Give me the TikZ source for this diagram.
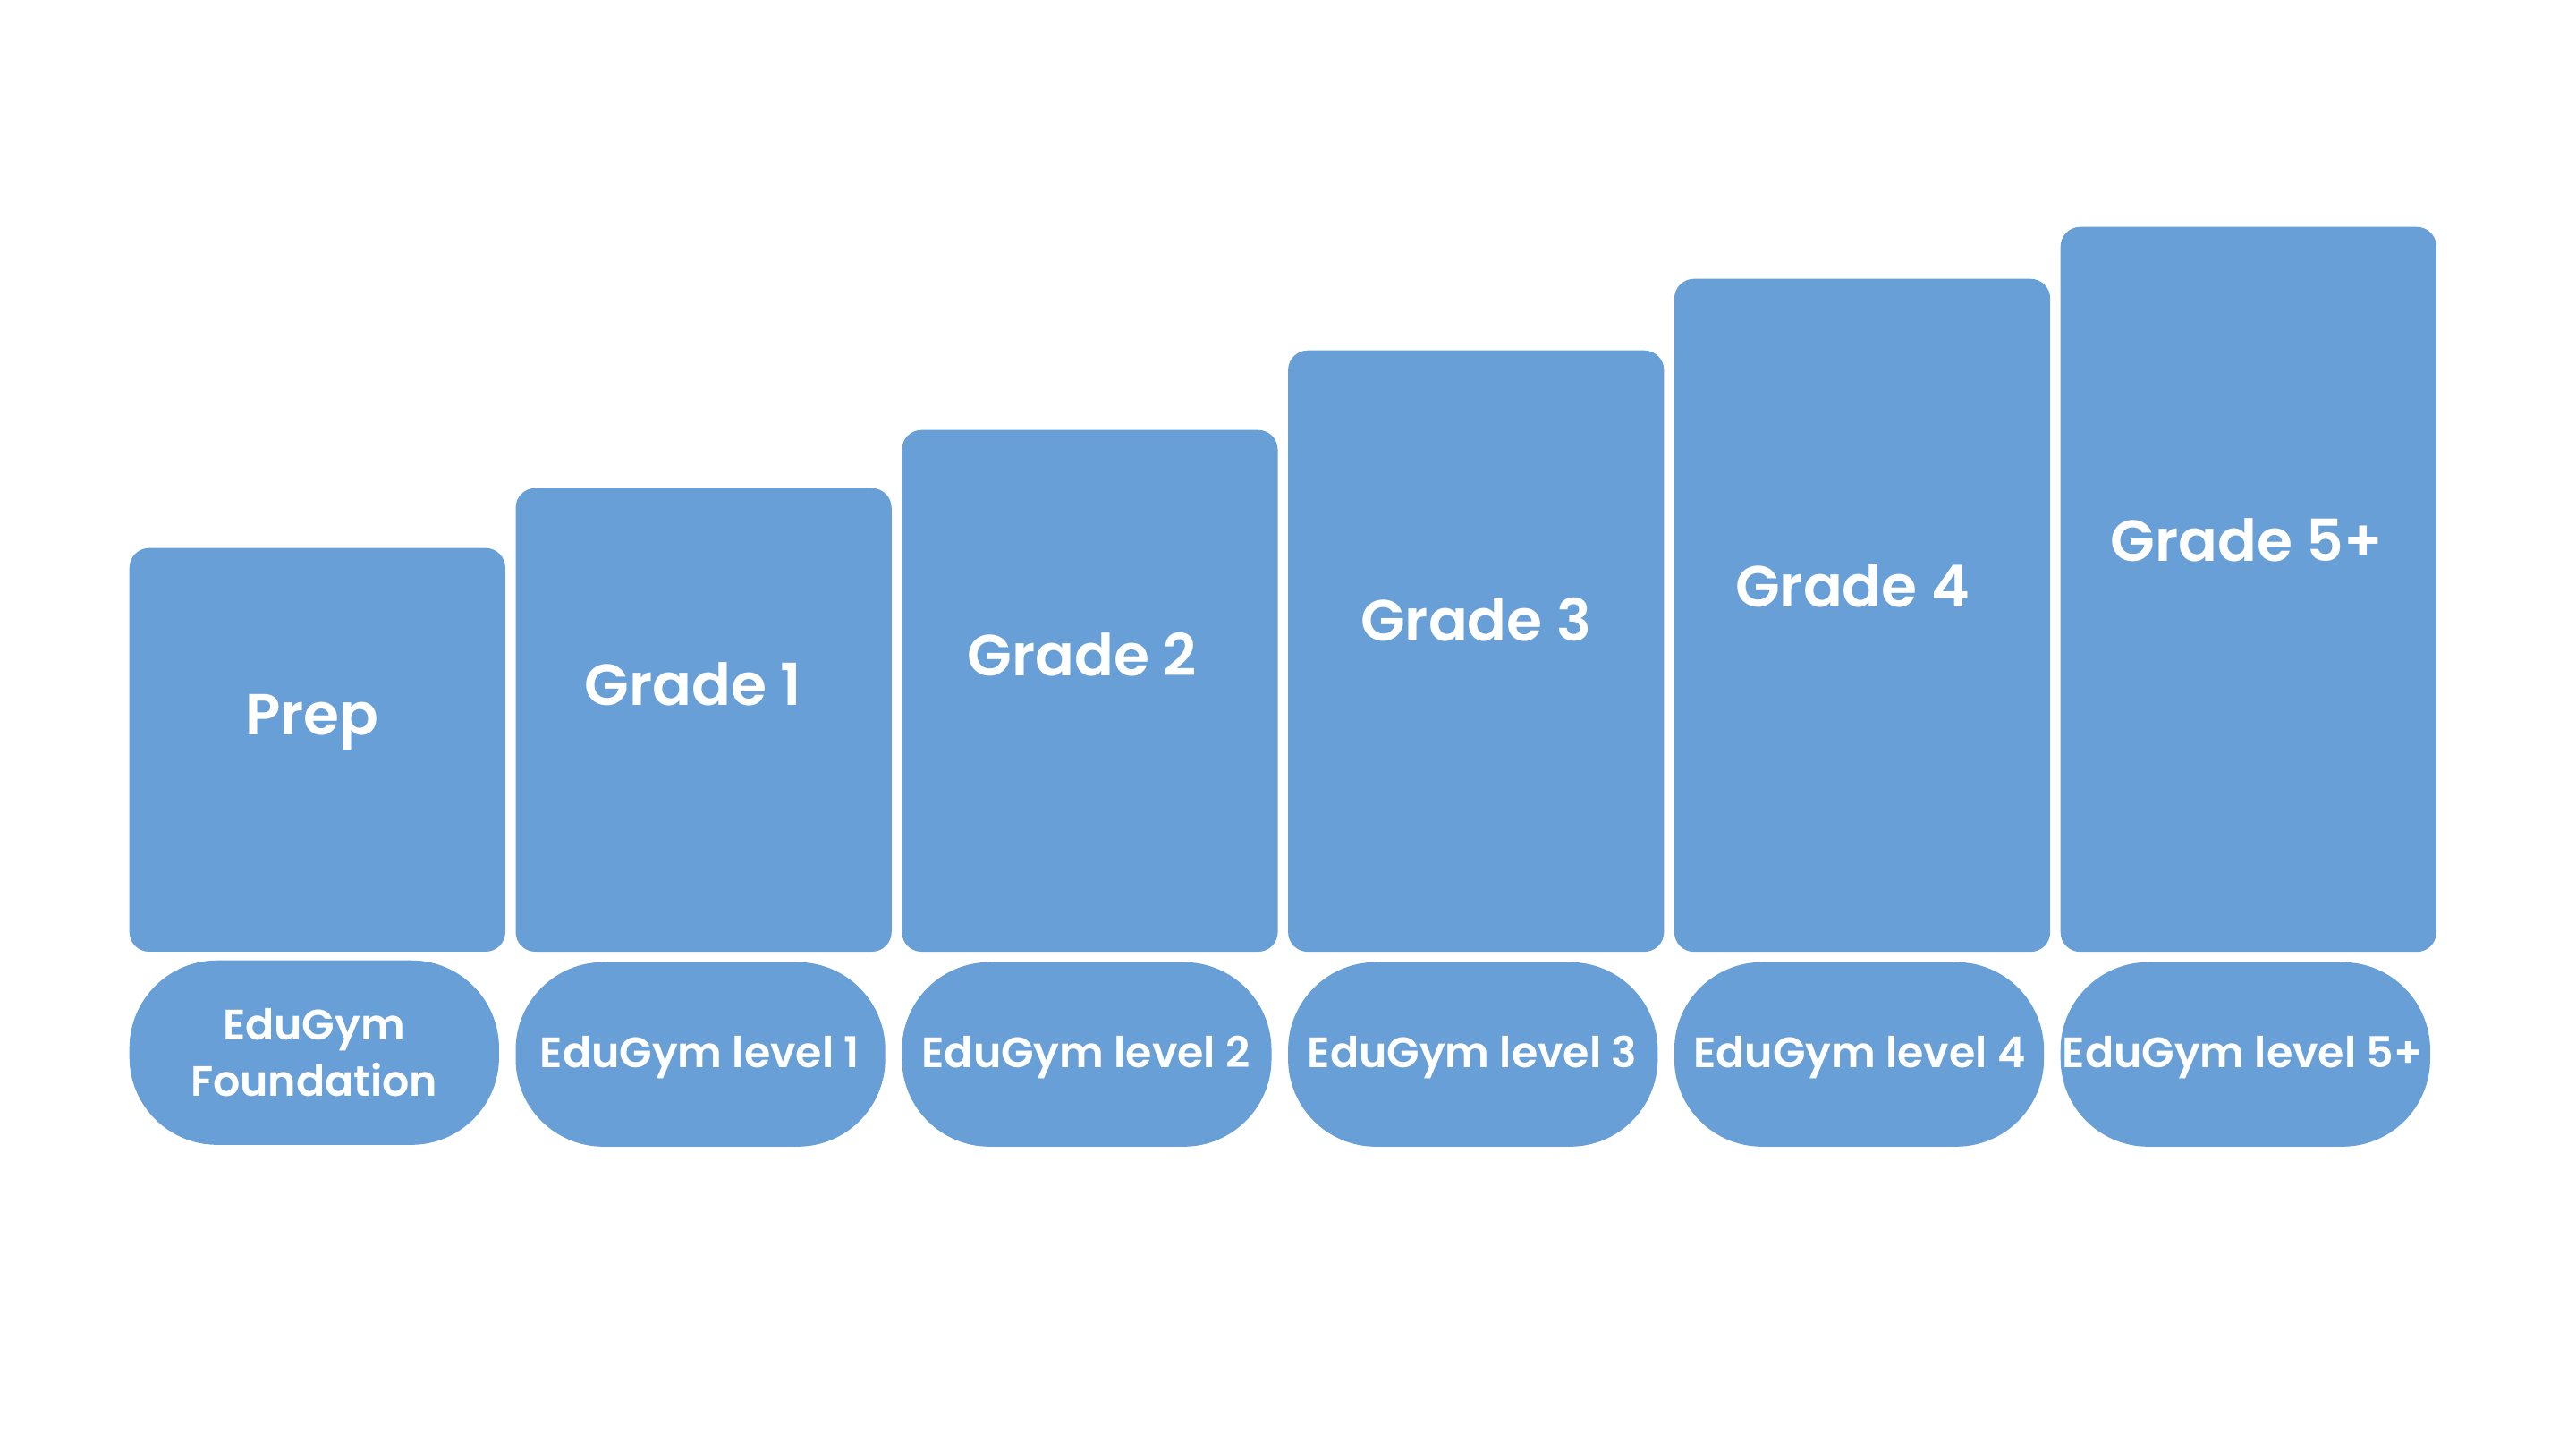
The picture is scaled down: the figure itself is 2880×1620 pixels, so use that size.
\documentclass[tikz,border=0pt]{standalone}
\usepackage{fontspec}
\setmainfont{Poppins}[BoldFont={Poppins SemiBold}]
\definecolor{eblue}{RGB}{104,159,214}
\begin{document}
\begin{tikzpicture}[x=0.01cm,y=-0.01cm,
  bar/.style={fill=eblue, rounded corners=0.22cm, minimum width=4.2cm, inner sep=0pt, anchor=north west},
  pill/.style={fill=eblue, rounded corners=0.98cm, minimum width=4.13cm, minimum height=2.06cm, inner sep=0pt, anchor=north west},
  gtext/.style={text=white, font=\fontsize{18.4}{23}\selectfont\bfseries, anchor=base, inner sep=0pt},
  ptext/.style={text=white, font=\fontsize{13.5}{17.9}\selectfont\bfseries, anchor=base, inner sep=0pt, align=center}]
\useasboundingbox[fill=white] (0,0) rectangle (2880,1620);
% grade bars
\node[bar, minimum height=4.51cm] (b0) at (144,612) {};
\node[bar, minimum height=5.18cm] (b1) at (575.8,545) {};
\node[bar, minimum height=5.83cm] (b2) at (1007.6,480) {};
\node[bar, minimum height=6.72cm] (b3) at (1439.4,391) {};
\node[bar, minimum height=7.52cm] (b4) at (1871.2,311) {};
\node[bar, minimum height=8.10cm] (b5) at (2303,253) {};
% grade labels
\node[gtext] (t0) at (349,821) {Prep};
\node[gtext] (t1) at (775,788) {Grade 1};
\node[gtext] (t2) at (1210,755) {Grade 2};
\node[gtext] (t3) at (1650,716) {Grade 3};
\node[gtext] (t4) at (2071,678) {Grade 4};
\node[gtext] (t5) at (2512,627) {Grade 5+};
% pills
\node[pill] (p0) at (144,1073) {};
\node[pill] (p1) at (575.8,1075) {};
\node[pill] (p2) at (1007.6,1075) {};
\node[pill] (p3) at (1439.4,1075) {};
\node[pill] (p4) at (1871.2,1075) {};
\node[pill] (p5) at (2303,1075) {};
% pill labels
\node[ptext, anchor=center] (q0) at (351,1177) {EduGym\\Foundation};
\node[ptext] (q1) at (782.3,1193) {EduGym level 1};
\node[ptext] (q2) at (1214.1,1193) {EduGym level 2};
\node[ptext] (q3) at (1645.9,1193) {EduGym level 3};
\node[ptext] (q4) at (2079,1193) {EduGym level 4};
\node[ptext] (q5) at (2507,1193) {EduGym level 5+};
\end{tikzpicture}
\end{document}
